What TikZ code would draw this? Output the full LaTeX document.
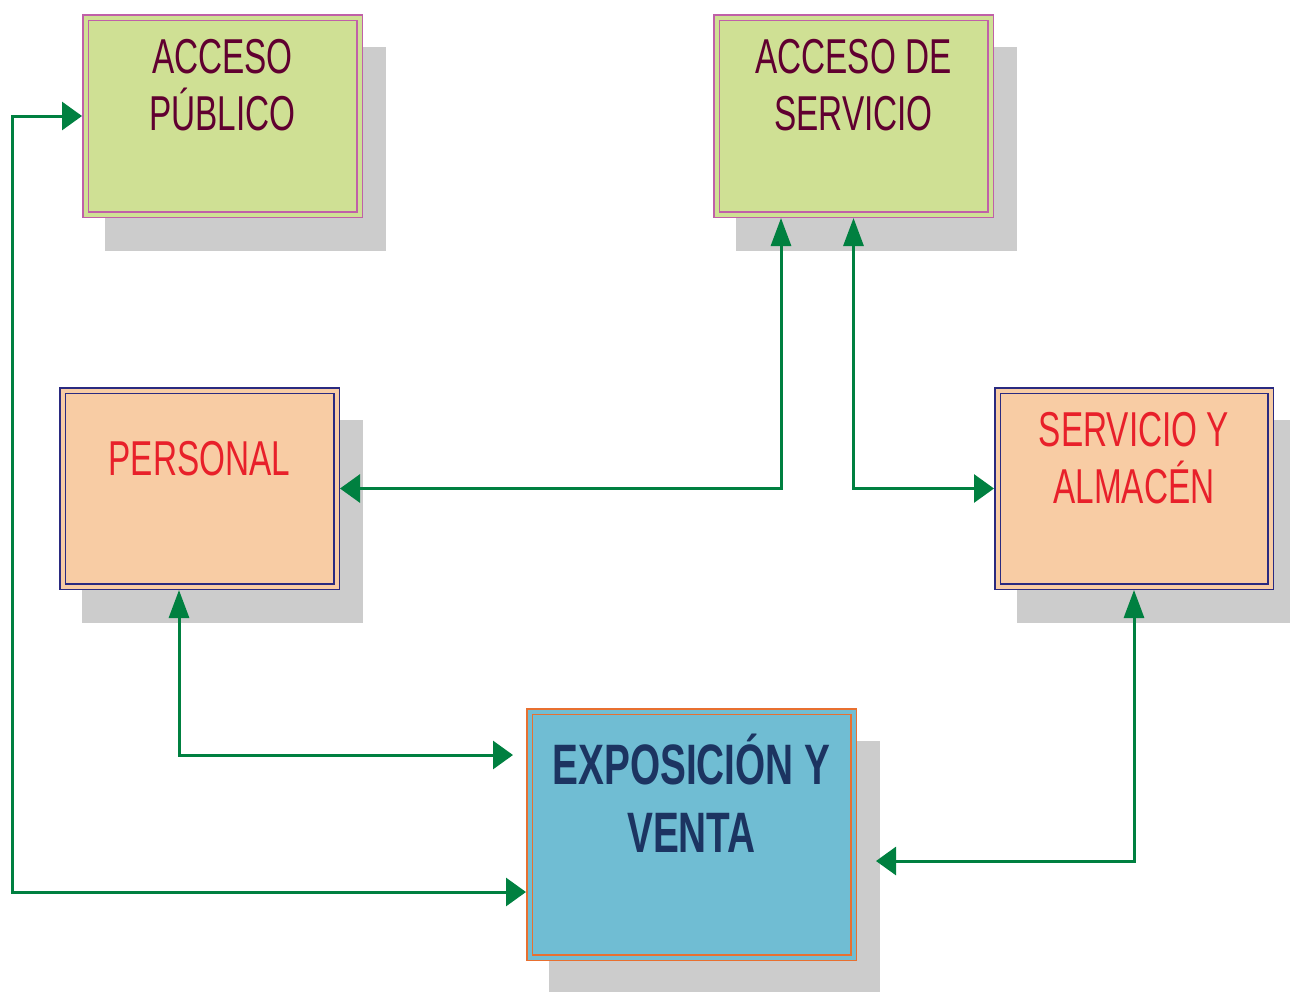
\documentclass[tikz,border=0pt]{standalone}
\usepackage{fontspec}
\setmainfont{Liberation Sans}[FakeStretch=0.68]
\usetikzlibrary{arrows.meta,backgrounds,calc}

\definecolor{greenfill}{RGB}{207,224,148}
\definecolor{pinkline}{RGB}{192,96,168}
\definecolor{maroontext}{RGB}{96,0,48}
\definecolor{peachfill}{RGB}{248,204,164}
\definecolor{navyline}{RGB}{42,42,128}
\definecolor{redtext}{RGB}{232,32,42}
\definecolor{bluefill}{RGB}{112,189,211}
\definecolor{orangeline}{RGB}{232,112,48}
\definecolor{navytext}{RGB}{28,52,97}
\definecolor{linkgreen}{RGB}{0,128,64}
\definecolor{shadowgray}{RGB}{204,204,204}

\tikzset{
  box/.style={rectangle, inner sep=0pt, outer sep=3.5pt, line width=1.5pt,
    double distance=4pt},
  accessbox/.style={box, draw=pinkline, double=greenfill, fill=greenfill},
  roombox/.style={box, draw=navyline, double=peachfill, fill=peachfill},
  mainbox/.style={box, draw=orangeline, double=bluefill, fill=bluefill},
  shadowfill/.style={fill=shadowgray},
  smalltext/.style={inner sep=0pt, align=center, anchor=base,
    font=\fontsize{49}{57}\selectfont},
  bigtext/.style={inner sep=0pt, align=center, anchor=base,
    font=\fontsize{57}{68}\selectfont\bfseries, text=navytext},
  hh/.tip={Triangle[length=20pt,width=28pt]},
  vv/.tip={Triangle[length=28pt,width=20pt]},
  link/.style={draw=linkgreen, line width=3pt},
}

\begin{document}
\begin{tikzpicture}[x=1pt,y=-1pt]
\useasboundingbox (0,0) rectangle (1290,991);

% rooms
\node[accessbox, minimum width=274pt, minimum height=197pt] (AP) at (222.5,116) {};
\node[accessbox, minimum width=274pt, minimum height=197pt] (AS) at (853.5,116) {};
\node[roombox, minimum width=274pt, minimum height=196pt] (PE) at (199.5,488.5) {};
\node[roombox, minimum width=273pt, minimum height=196pt] (SA) at (1134,488.5) {};
\node[mainbox, minimum width=324pt, minimum height=246pt] (EX) at (691.5,834.5) {};

% drop shadows behind the rooms
\begin{scope}[on background layer]
  \foreach \b in {AP,AS,PE,SA,EX}
    \fill[shadowfill] ([shift={(23,33)}]\b.north west) rectangle ([shift={(23,33)}]\b.south east);
\end{scope}

% room names (anchored at the baseline of the last line)
\node[smalltext, text=maroontext] (APt) at (222.5,130) {ACCESO\\PÚBLICO};
\node[smalltext, text=maroontext] (ASt) at (853.5,130) {ACCESO DE\\SERVICIO};
\node[smalltext, text=redtext] (PEt) at (199.5,475) {PERSONAL};
\node[smalltext, text=redtext] (SAt) at (1134,503) {SERVICIO Y\\ALMACÉN};
\node[bigtext] (EXt) at (691.5,852) {EXPOSICIÓN Y\\VENTA};

% connection points
\coordinate (rail) at (12,0);
\coordinate (exlow) at ([yshift=-57.5pt]EX.west);
\coordinate (exmid) at ([shift={(-13pt,79.5pt)}]EX.west);
\coordinate (exright) at ([shift={(19pt,-26.5pt)}]EX.east);

% links
\draw[link, {hh}-{hh}] (AP.west) -- (rail |- AP.west) -- (rail |- exlow) -- (exlow);
\draw[link, {vv}-{hh}] ([xshift=-72.5pt]AS.south) |- (PE.east);
\draw[link, {vv}-{hh}] (AS.south) |- (SA.west);
\draw[link, {vv}-{hh}] ([xshift=-20.5pt]PE.south) |- (exmid);
\draw[link, {vv}-{hh}] (SA.south) |- (exright);
\end{tikzpicture}
\end{document}
